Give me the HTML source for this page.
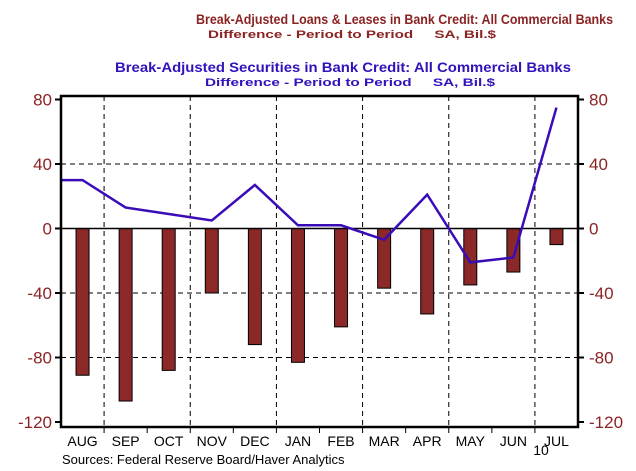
<!DOCTYPE html>
<html><head><meta charset="utf-8"><style>
body{margin:0;background:#fff;}
svg{display:block;font-family:"Liberation Sans",Arial,sans-serif;}
.pre{white-space:pre;}
</style></head><body>
<svg id="c" width="636" height="471">
<text x="196" y="24" font-size="14" font-weight="bold" textLength="417" lengthAdjust="spacingAndGlyphs" fill="#8B2323">Break-Adjusted Loans &amp; Leases in Bank Credit: All Commercial Banks</text>
<text class="pre" x="208" y="38" font-size="11" font-weight="bold" textLength="288" lengthAdjust="spacingAndGlyphs" fill="#8B2323">Difference - Period to Period     SA, Bil.$</text>
<text x="115" y="72" font-size="14" font-weight="bold" textLength="456" lengthAdjust="spacingAndGlyphs" fill="#3311BB">Break-Adjusted Securities in Bank Credit: All Commercial Banks</text>
<text class="pre" x="205" y="86" font-size="11" font-weight="bold" textLength="290" lengthAdjust="spacingAndGlyphs" fill="#3311BB">Difference - Period to Period     SA, Bil.$</text>
<g id="g"></g>
<text x="62" y="464" font-size="13" fill="#000">Sources:  Federal Reserve Board/Haver Analytics</text>
<text x="541" y="455" text-anchor="middle" font-size="14" fill="#000">10</text>
</svg>
<script>
const categories=["AUG","SEP","OCT","NOV","DEC","JAN","FEB","MAR","APR","MAY","JUN","JUL"];
const loans=[-91,-107,-88,-40,-72,-83,-61,-37,-53,-35,-27,-10];
const securities=[30,13,9,5,27,2,2,-7,21,-21,-18,75];
const startValue=30;
const ticks=[80,40,0,-40,-80,-120];
const L=61,R=578,T=96,B=427;
const step=(R-L)/categories.length;
const y=v=>228.5-v*1.6125;
const xc=i=>L+step*(i+0.5);
const g=document.getElementById('g');
const NS='http://www.w3.org/2000/svg';
function mk(t,a){const e=document.createElementNS(NS,t);for(const k in a)e.setAttribute(k,a[k]);g.appendChild(e);return e;}
ticks.forEach(t=>{if(t!==0&&t!==80&&t!==-120){const e=mk('line',{x1:L,x2:R,y1:y(t),y2:y(t),stroke:'#000','stroke-dasharray':'5,4','stroke-width':1});

}});
for(let k=1;k<categories.length;k+=2){const e=mk('line',{x1:L+step*k,x2:L+step*k,y1:T,y2:B,stroke:'#000','stroke-dasharray':'5,4'});

}
loans.forEach((v,i)=>{const e=mk('rect',{x:xc(i)-6.5,y:y(0),width:13,height:y(v)-y(0),fill:'#8B2828',stroke:'#000','stroke-width':1});

});
const z=mk('line',{x1:L,x2:R,y1:y(0),y2:y(0),stroke:'#000','stroke-width':1.5});


let pts=[[L+1,y(startValue)]];securities.forEach((v,i)=>pts.push([xc(i),y(v)]));
const pl=mk('polyline',{points:pts.map(p=>p.join(',')).join(' '),fill:'none',stroke:'#3A0CB8','stroke-width':2.5});


const fr=mk('rect',{x:L,y:T,width:R-L,height:B-T,fill:'none',stroke:'#000','stroke-width':2.5});


ticks.forEach(t=>{
 mk('line',{x1:L-6,x2:L,y1:y(t),y2:y(t),stroke:'#000','stroke-width':2});
 mk('line',{x1:R,x2:R+6,y1:y(t),y2:y(t),stroke:'#000','stroke-width':2});
 const a=mk('text',{x:L-9,y:y(t)+6,'text-anchor':'end','font-size':17,fill:'#8B2323'});a.textContent=t;
 
 
 const b=mk('text',{x:R+11,y:y(t)+6,'font-size':17,fill:'#8B2323'});b.textContent=t;
 
 
});
categories.forEach((c,i)=>{
 if(i>0)mk('line',{x1:L+step*i,x2:L+step*i,y1:B,y2:B+6,stroke:'#000','stroke-width':1});
 const t=mk('text',{x:xc(i),y:446,'text-anchor':'middle','font-size':14,fill:'#000'});t.textContent=c;
 
 
});
</script>
</body></html>
